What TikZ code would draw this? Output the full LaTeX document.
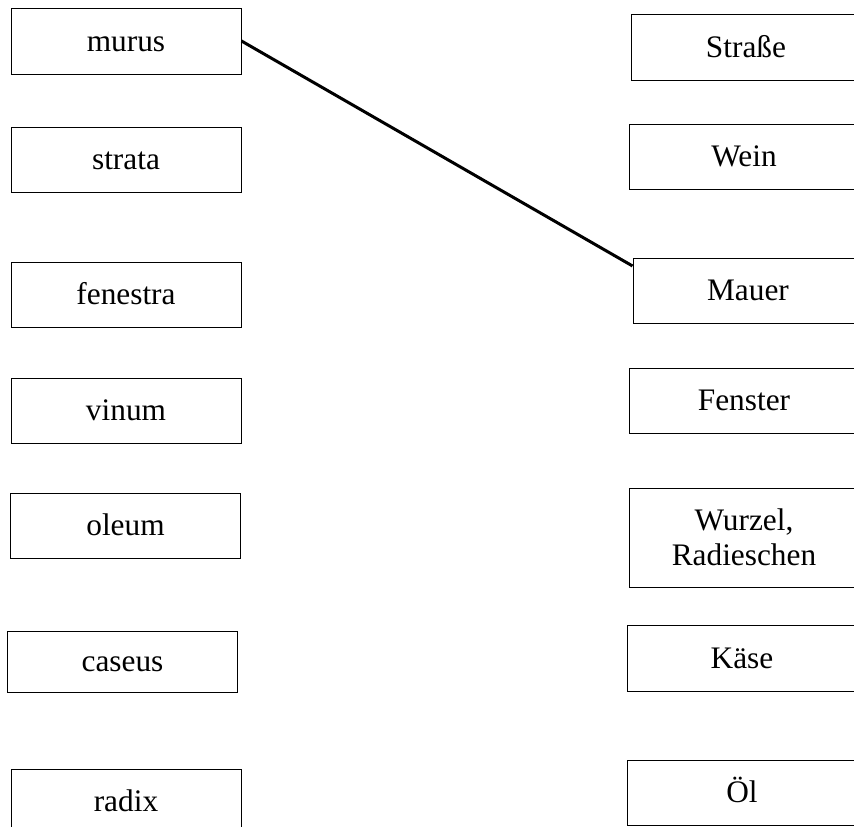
\documentclass[tikz,border=0pt]{standalone}
\usepackage{fontspec}
\setmainfont{Liberation Serif}

\begin{document}
\begin{tikzpicture}[x=0.75pt,y=0.75pt,yscale=-1,xscale=1,
  boxbase/.style={draw, line width=0.75pt, minimum width=172.5pt, minimum height=48.75pt, inner sep=0pt, align=center, font=\fontsize{23.5}{26}\selectfont},
  wordbox/.style={boxbase, text height=17pt, text depth=2pt}]
\useasboundingbox (0,0) rectangle (854,826);
\clip (0,0) rectangle (854,826);

% Latin words
\node [wordbox, minimum height=49.5pt] (murus) at (126,41) {murus};
\node [wordbox] (strata) at (126,159.5) {strata};
\node [wordbox] (fenestra) at (126,294.5) {fenestra};
\node [wordbox] (vinum) at (126,410.5) {vinum};
\node [wordbox] (oleum) at (125.5,525.5) {oleum};
\node [wordbox, minimum height=45.75pt] (caseus) at (122.5,661.5) {caseus};
\node [wordbox] (radix) at (126,801.5) {radix};

% German words
\node [wordbox, minimum height=49.5pt] (strasse) at (746,47) {Straße};
\node [wordbox] (wein) at (744,156.5) {Wein};
\node [wordbox] (mauer) at (748,290.5) {Mauer};
\node [wordbox] (fenster) at (744,400.5) {Fenster};
\node [boxbase, minimum height=74.25pt] (wurzel) at (744,537.5) {Wurzel,\\Radieschen};
\node [wordbox, minimum height=49.5pt] (kaese) at (742,658) {Käse};
\node [wordbox] (oel) at (742,792.5) {Öl};

% Solved pair
\draw [line width=2.25pt] (murus.east) -- (mauer.168);

\end{tikzpicture}
\end{document}
